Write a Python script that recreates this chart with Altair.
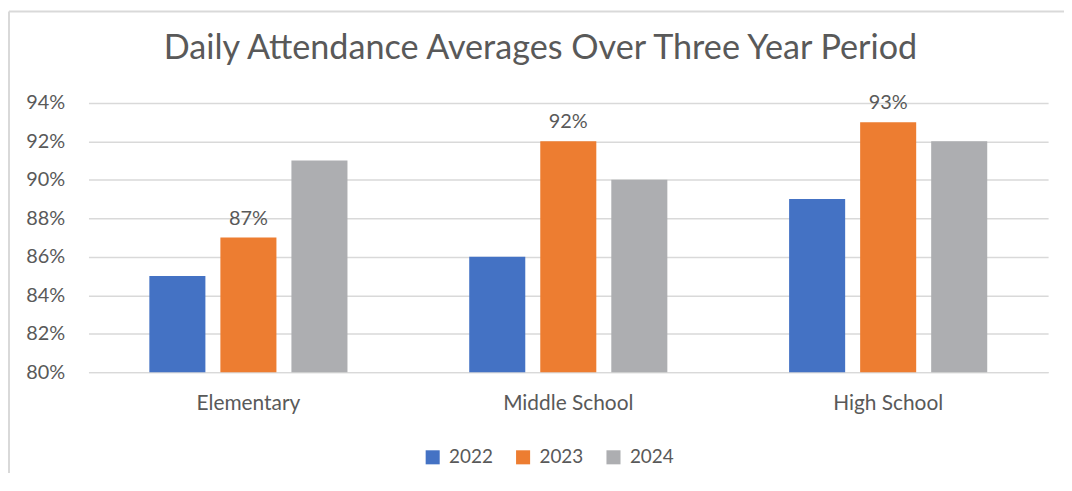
import altair as alt
import pandas as pd

categories = ["Elementary", "Middle School", "High School"]
years = ["2022", "2023", "2024"]
values_2022 = [0.85, 0.86, 0.89]
values_2023 = [0.87, 0.92, 0.93]
values_2024 = [0.91, 0.90, 0.92]
y_ticks = [0.80, 0.82, 0.84, 0.86, 0.88, 0.90, 0.92, 0.94]
colors = ["#4472C4", "#ED7D31", "#ADAEB1"]
labelled_year = "2023"

rows = []
for yr, vals in zip(years, [values_2022, values_2023, values_2024]):
    for c, v in zip(categories, vals):
        rows.append({"school": c, "year": yr, "value": v})
df = pd.DataFrame(rows)

FONT = "Lato"
TXT = "#595959"

y_axis = alt.Axis(values=y_ticks, format=".0%", labelFontSize=20, labelColor=TXT,
                  labelFont=FONT, labelPadding=24, ticks=False, domain=False,
                  labelOverlap=False, labelBound=False, tickCount=8,
                  gridColor="#D9D9D9", gridWidth=1.5)
y_scale = alt.Scale(domain=[y_ticks[0], y_ticks[-1]], zero=False)

base = alt.Chart(df).encode(
    x=alt.X("school:N", sort=categories, title=None,
            scale=alt.Scale(paddingInner=0.334, paddingOuter=0.167),
            axis=alt.Axis(labelAngle=0, labelFontSize=21, labelColor=TXT, labelFont=FONT,
                          labelPadding=21, ticks=False, domainColor="#D9D9D9", domainWidth=1.5)),
    xOffset=alt.XOffset("year:N", sort=years,
                        scale=alt.Scale(paddingInner=0.211, paddingOuter=0.105)),
)

bars = base.mark_bar().encode(
    y=alt.Y("value:Q", title=None, scale=y_scale, axis=y_axis),
    y2=alt.datum(y_ticks[0]),
    color=alt.Color("year:N", sort=years, title=None,
                    scale=alt.Scale(domain=years, range=colors),
                    legend=alt.Legend(orient="none", legendX=337, legendY=347, direction="horizontal",
                                      symbolType="square", symbolSize=200, symbolStrokeWidth=0,
                                      labelFontSize=19, labelColor=TXT, labelFont=FONT,
                                      labelOffset=7, columnPadding=20)),
)

labels = base.transform_filter(alt.datum.year == labelled_year).mark_text(
    baseline="bottom", dy=-9, fontSize=20, color=TXT, font=FONT
).encode(
    y=alt.Y("value:Q", title=None, scale=y_scale, axis=y_axis),
    text=alt.Text("value:Q", format=".0%"),
)

frame = alt.Data(values=[{"k": 1}])
left_line = alt.Chart(frame).mark_rule(color="#D9D9D9", strokeWidth=2).encode(
    x=alt.value(-80), y=alt.value(-92), y2=alt.value(400))
top_line = alt.Chart(frame).mark_rule(color="#D9D9D9", strokeWidth=2).encode(
    x=alt.value(-80), x2=alt.value(1000), y=alt.value(-92))

chart = alt.layer(bars, labels, left_line, top_line).properties(
    width=966, height=271,
    title=alt.Title("Daily Attendance Averages Over Three Year Period",
                    fontSize=34.4, font=FONT, color=TXT, fontWeight="normal",
                    anchor="middle", offset=-56, dx=-28),
    autosize=alt.AutoSizeParams(type="none"),
    padding={"left": 81, "top": 94, "right": 16, "bottom": 100},
    background="white",
).configure_view(stroke=None)

chart.save("out.html", embed_options={"renderer": "svg", "actions": False})
